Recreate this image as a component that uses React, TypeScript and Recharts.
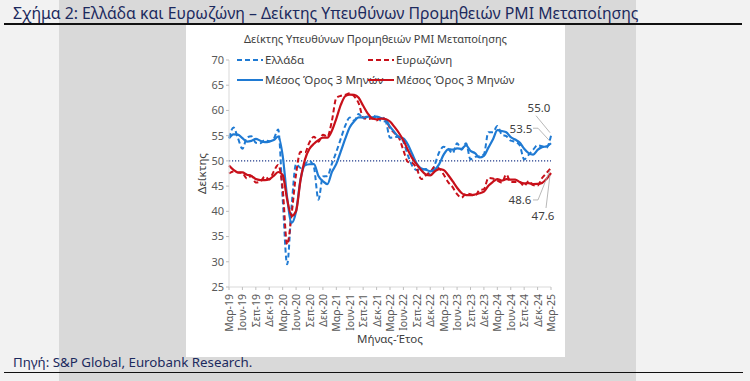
import React from 'react';
import { LineChart, Line, XAxis, YAxis, ReferenceLine, LabelList } from 'recharts';

// ---- data ----
const monthNames = ['Ιαν', 'Φεβ', 'Μαρ', 'Απρ', 'Μαΐ', 'Ιουν', 'Ιουλ', 'Αυγ', 'Σεπ', 'Οκτ', 'Νοε', 'Δεκ'];
const startYear = 19;
const startMonth = 2; // March
const monthCount = 73;

const greece = [
  54.5, 56.6, 54.5, 52.4, 54.6, 54.9, 53.6, 53.5, 54.1, 53.9,
  54.4, 56.2, 42.5, 29.5, 41.1, 49.4, 48.6, 49.4, 50.0, 48.7, 42.3, 46.9,
  47.0, 49.4, 51.8, 54.4, 57.0, 58.6, 58.0, 59.3, 58.4, 58.7, 58.6, 59.0,
  57.9, 57.8, 54.6, 54.7, 54.8, 53.8, 51.1, 49.0, 48.2, 48.2, 48.4, 47.2,
  49.2, 51.7, 52.8, 52.4, 51.5, 53.5, 52.2, 53.5, 50.3, 50.8, 50.9, 51.3,
  55.7, 55.7, 56.9, 55.2, 54.9, 54.0, 53.8, 53.1, 50.3, 51.2, 52.2, 53.1,
  52.9, 52.6, 55.0,
];

const greece3m = [
  54.47, 55.27, 55.2, 54.5, 53.83, 53.97, 54.37, 54.0, 53.73, 53.83,
  54.13, 54.83, 51.03, 42.73, 37.7, 40.0, 46.37, 49.13, 49.33, 49.37, 47.0, 45.97,
  45.4, 47.77, 49.4, 51.87, 54.4, 56.67, 57.87, 58.63, 58.57, 58.8, 58.57, 58.77,
  58.5, 58.23, 56.77, 55.7, 54.7, 54.43, 53.23, 51.3, 49.43, 48.47, 48.27, 47.93,
  48.27, 49.37, 51.23, 52.3, 52.23, 52.47, 52.4, 53.07, 52.0, 51.53, 50.67, 51.0,
  52.63, 54.23, 56.1, 55.93, 55.67, 54.7, 54.23, 53.63, 52.4, 51.53, 51.23, 52.17,
  52.73, 52.87, 53.5,
];

const eurozone = [
  47.5, 47.9, 47.7, 47.6, 46.5, 47.0, 45.7, 45.9, 46.9, 46.3,
  47.9, 49.2, 44.5, 33.4, 39.4, 47.4, 51.8, 51.7, 53.7, 54.8, 53.8, 55.2,
  54.8, 57.9, 62.5, 62.9, 63.1, 63.4, 62.8, 61.4, 58.6, 58.3, 58.4, 58.0,
  58.7, 58.2, 56.5, 55.5, 54.6, 52.1, 49.8, 49.6, 48.4, 46.4, 47.1, 47.8,
  48.8, 48.5, 47.3, 45.8, 44.8, 43.4, 42.7, 43.5, 43.4, 43.1, 44.2, 44.4,
  46.6, 46.5, 46.1, 45.7, 47.3, 45.8, 45.8, 45.8, 45.0, 46.0, 45.2, 45.1,
  46.6, 47.6, 48.6,
];

const eurozone3m = [
  49.1, 48.23, 47.7, 47.73, 47.27, 47.03, 46.4, 46.2, 46.17, 46.37,
  47.03, 47.8, 47.2, 42.37, 39.1, 40.07, 46.2, 50.3, 52.4, 53.4, 54.1, 54.6,
  54.6, 55.97, 58.4, 61.1, 62.83, 63.13, 63.1, 62.53, 60.93, 59.43, 58.43, 58.23,
  58.37, 58.3, 57.8, 56.73, 55.53, 54.07, 52.17, 50.5, 49.27, 48.13, 47.3, 47.1,
  47.9, 48.37, 48.2, 47.2, 45.97, 44.67, 43.63, 43.2, 43.2, 43.33, 43.57, 43.9,
  45.07, 45.83, 46.4, 46.1, 46.37, 46.27, 46.3, 45.8, 45.53, 45.6, 45.4, 45.43,
  45.63, 46.43, 47.6,
];

const yTicks = [25, 30, 35, 40, 45, 50, 55, 60, 65, 70];

const seriesNames = ['Ελλάδα', 'Ευρωζώνη', 'Μέσος Όρος 3 Μηνών', 'Μέσος Όρος 3 Μηνών'];

const months: string[] = [];
for (let i = 0; i < monthCount; i++) {
  const m = (startMonth + i) % 12;
  const y = startYear + Math.floor((startMonth + i) / 12);
  months.push(`${monthNames[m]}-${y}`);
}

const data = months.map((mo, i) => ({
  month: mo,
  gr: greece[i],
  gr3: greece3m[i],
  ez: eurozone[i],
  ez3: eurozone3m[i],
}));

// ---- styles ----
const BLUE = '#1f7ad3';
const RED = '#c8101a';
const NAVY = '#1c2a5e';
const TXT = '#404040';
const FONT = '"Noto Sans", "Open Sans", sans-serif';

const lastIdx = monthCount - 1;

type LeaderCfg = { tdx: number; tdy: number; pts: [number, number][] };

const makeEndLabel = (cfg: LeaderCfg) => (props: any) => {
  const { x, y, index, value } = props;
  if (index !== lastIdx || x == null || y == null) return null;
  const pts = cfg.pts.map(([dx, dy]) => `${x + dx},${y + dy}`).join(' ');
  return (
    <g>
      <polyline points={pts} fill="none" stroke="#a6a6a6" strokeWidth={0.8} />
      <text
        x={x + cfg.tdx}
        y={y + cfg.tdy}
        textAnchor="middle"
        dominantBaseline="central"
        fontSize={11.5}
        fill={TXT}
        fontFamily={FONT}
      >
        {Number(value).toFixed(1)}
      </text>
    </g>
  );
};

const grLabel = makeEndLabel({ tdx: -12, tdy: -28, pts: [[-15, -20], [-1, -3]] });
const gr3Label = makeEndLabel({ tdx: -30, tdy: -15, pts: [[-18, -15], [-13, -15], [-1, -2]] });
const ezLabel = makeEndLabel({ tdx: -31, tdy: 32, pts: [[-18, 32], [-13, 32], [-1, 2]] });
const ez3Label = makeEndLabel({ tdx: -8, tdy: 43, pts: [[-5, 35], [-1, 2]] });

const XTick = (props: any) => {
  const { x, y, payload } = props;
  return (
    <text
      transform={`translate(${x},${y + 2}) rotate(-90)`}
      textAnchor="end"
      dominantBaseline="central"
      fontSize={10.5}
      fill="#595959"
      fontFamily={FONT}
    >
      {payload.value}
    </text>
  );
};

const LegendSample = ({ color, dashed }: { color: string; dashed: boolean }) => (
  <svg width={26} height={6} style={{ display: 'block' }}>
    <line x1={0} y1={3} x2={26} y2={3} stroke={color} strokeWidth={2} strokeDasharray={dashed ? '5 3' : undefined} />
  </svg>
);

const legendItems = [
  { name: seriesNames[0], color: BLUE, dashed: true, left: 237, top: 53 },
  { name: seriesNames[1], color: RED, dashed: true, left: 368, top: 53 },
  { name: seriesNames[2], color: BLUE, dashed: false, left: 237, top: 73 },
  { name: seriesNames[3], color: RED, dashed: false, left: 368, top: 73 },
];

export default function App() {
  return (
    <div
      style={{
        position: 'fixed',
        left: 0,
        top: 0,
        width: 750,
        height: 381,
        background: '#f2f2f2',
        fontFamily: FONT,
        overflow: 'hidden',
      }}
    >
      <div style={{ position: 'absolute', left: 59, top: 0, width: 577, height: 381, background: '#d9d9d9' }} />
      <div
        style={{
          position: 'absolute',
          left: 13,
          top: 3,
          fontSize: 15.8,
          color: NAVY,
          whiteSpace: 'nowrap',
          lineHeight: '20px',
        }}
      >
        Σχήμα 2: Ελλάδα και Ευρωζώνη – Δείκτης Υπευθύνων Προμηθειών PMI Μεταποίησης
      </div>
      <div style={{ position: 'absolute', left: 4, top: 23, width: 738, height: 1.5, background: '#111' }} />

      <div style={{ position: 'absolute', left: 186, top: 25, width: 379, height: 332, background: '#ffffff' }}>
        <LineChart
          width={379}
          height={332}
          data={data}
          margin={{ top: 35, right: 14, bottom: 0, left: 0 }}
        >
          <XAxis
            dataKey="month"
            interval={2}
            tick={<XTick />}
            tickSize={3}
            stroke="#d9d9d9"
            tickLine={{ stroke: '#bfbfbf' }}
            height={70}
            label={{ value: 'Μήνας-Έτος', position: 'insideBottom', offset: 14, fontSize: 11.5, fill: TXT, fontFamily: FONT }}
          />
          <YAxis
            domain={[25, 70]}
            ticks={yTicks}
            interval={0}
            width={43}
            tickSize={3}
            stroke="#d9d9d9"
            tickLine={{ stroke: '#bfbfbf' }}
            tick={{ fontSize: 11, fill: '#595959', fontFamily: FONT }}
            label={{
              value: 'Δείκτης',
              angle: -90,
              position: 'insideLeft',
              offset: 16,
              fontSize: 11.5,
              fill: TXT,
              fontFamily: FONT,
              style: { textAnchor: 'middle' },
            }}
          />
          <ReferenceLine y={50} stroke="#1f3a8a" strokeDasharray="1.2 1.8" strokeWidth={1.3} />
          <Line
            dataKey="gr"
            type="monotone"
            stroke={BLUE}
            strokeWidth={2}
            strokeDasharray="5 3"
            dot={false}
            activeDot={false}
            isAnimationActive={false}
          >
            <LabelList dataKey="gr" content={grLabel} />
          </Line>
          <Line
            dataKey="ez"
            type="monotone"
            stroke={RED}
            strokeWidth={2}
            strokeDasharray="5 3"
            dot={false}
            activeDot={false}
            isAnimationActive={false}
          >
            <LabelList dataKey="ez" content={ezLabel} />
          </Line>
          <Line
            dataKey="gr3"
            type="monotone"
            stroke={BLUE}
            strokeWidth={2.2}
            dot={false}
            activeDot={false}
            isAnimationActive={false}
          >
            <LabelList dataKey="gr3" content={gr3Label} />
          </Line>
          <Line
            dataKey="ez3"
            type="monotone"
            stroke={RED}
            strokeWidth={2.2}
            dot={false}
            activeDot={false}
            isAnimationActive={false}
          >
            <LabelList dataKey="ez3" content={ez3Label} />
          </Line>
        </LineChart>
        <div
          style={{
            position: 'absolute',
            left: 0,
            top: 6,
            width: 379,
            textAlign: 'center',
            fontSize: 11,
            color: TXT,
            whiteSpace: 'nowrap',
          }}
        >
          Δείκτης Υπευθύνων Προμηθειών PMI Μεταποίησης
        </div>
      </div>

      {legendItems.map((it, i) => (
        <div
          key={i}
          style={{
            position: 'absolute',
            left: it.left,
            top: it.top,
            display: 'flex',
            alignItems: 'center',
            gap: 2,
            fontSize: 11.5,
            color: TXT,
            whiteSpace: 'nowrap',
            lineHeight: '14px',
          }}
        >
          <LegendSample color={it.color} dashed={it.dashed} />
          <span>{it.name}</span>
        </div>
      ))}

      <div
        style={{
          position: 'absolute',
          left: 13,
          top: 354,
          fontSize: 13.3,
          color: NAVY,
          whiteSpace: 'nowrap',
          lineHeight: '16px',
        }}
      >
        Πηγή: S&amp;P Global, Eurobank Research.
      </div>
      <div style={{ position: 'absolute', left: 4, top: 371.5, width: 739, height: 1.5, background: '#111' }} />
    </div>
  );
}
